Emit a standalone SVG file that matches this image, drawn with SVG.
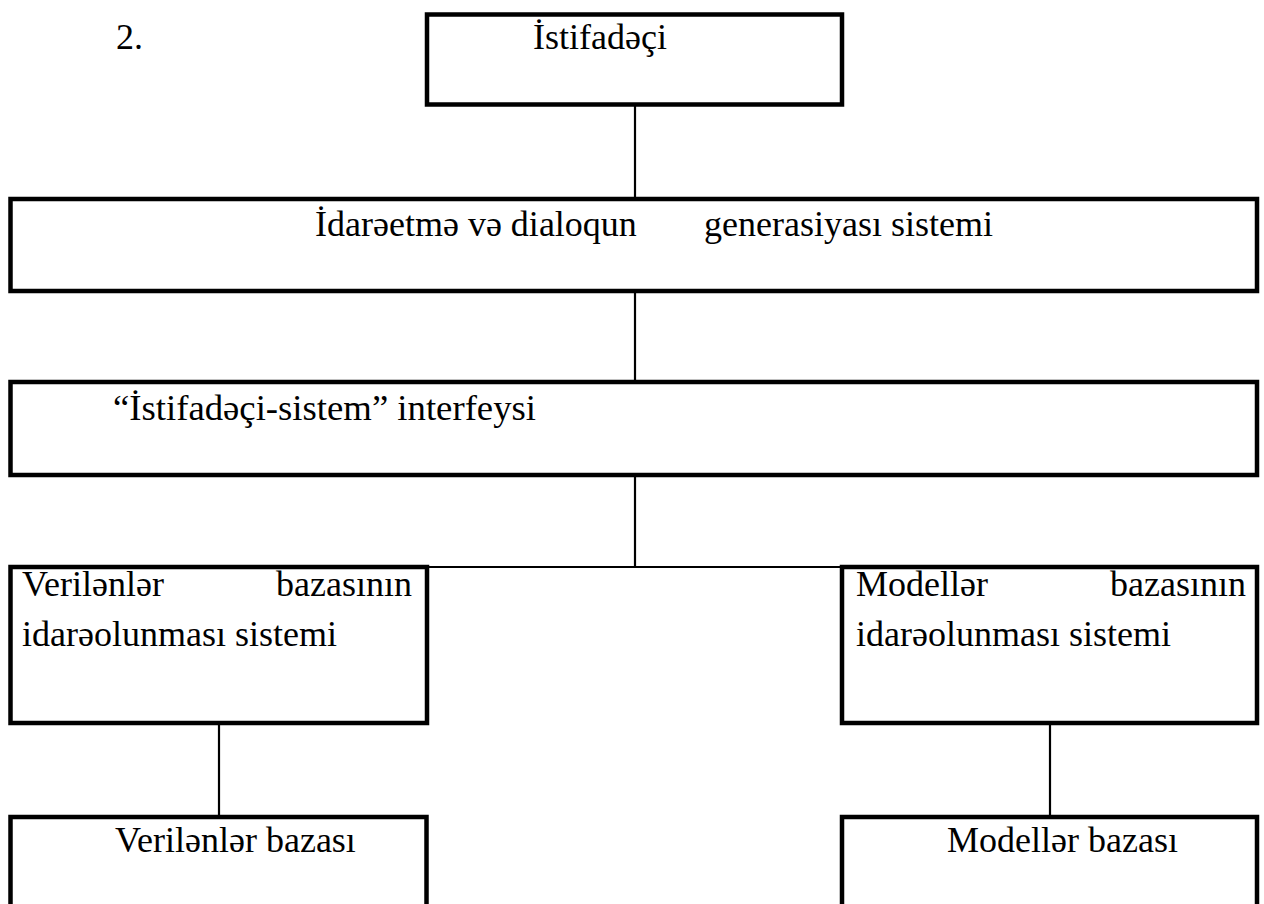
<svg xmlns="http://www.w3.org/2000/svg" width="1264" height="904" viewBox="0 0 1264 904">
<style>
.box{fill:#fff;stroke:#000;stroke-width:4.5}
.con{stroke:#000;stroke-width:2.2;fill:none}
text{font-family:"Liberation Serif","Times New Roman",serif;font-size:36px;fill:#000}
</style>
<rect width="1264" height="904" fill="#fff"/>
<text x="116" y="49">2.</text>
<g id="connectors">
<line class="con" x1="635" y1="104" x2="635" y2="199"/>
<line class="con" x1="635" y1="291" x2="635" y2="382"/>
<line class="con" x1="635" y1="475" x2="635" y2="567"/>
<line class="con" x1="427" y1="567" x2="842" y2="567"/>
<line class="con" x1="219" y1="723" x2="219" y2="817"/>
<line class="con" x1="1050" y1="723" x2="1050" y2="817"/>
</g>
<g id="n1">
<rect class="box" x="427" y="14.5" width="415" height="90"/>
<text x="533" y="49">İstifadəçi</text>
</g>
<g id="n2">
<rect class="box" x="10.5" y="199" width="1246.5" height="92"/>
<text x="315" y="236">İdarəetmə və dialoqun</text>
<text x="704" y="236">generasiyası sistemi</text>
</g>
<g id="n3">
<rect class="box" x="10.5" y="382" width="1246.5" height="93"/>
<text x="113" y="420" textLength="423" lengthAdjust="spacingAndGlyphs">“İstifadəçi-sistem” interfeysi</text>
</g>
<g id="n4">
<rect class="box" x="10.5" y="567" width="416.5" height="156"/>
<text x="22" y="596">Verilənlər</text>
<text x="412" y="596" text-anchor="end">bazasının</text>
<text x="22" y="646">idarəolunması sistemi</text>
</g>
<g id="n5">
<rect class="box" x="842" y="567" width="415" height="156"/>
<text x="856" y="596">Modellər</text>
<text x="1246" y="596" text-anchor="end">bazasının</text>
<text x="856" y="646">idarəolunması sistemi</text>
</g>
<g id="n6">
<rect class="box" x="10.5" y="817" width="416" height="120"/>
<text x="115" y="852">Verilənlər bazası</text>
</g>
<g id="n7">
<rect class="box" x="842" y="817" width="415" height="120"/>
<text x="947" y="852">Modellər bazası</text>
</g>
</svg>
